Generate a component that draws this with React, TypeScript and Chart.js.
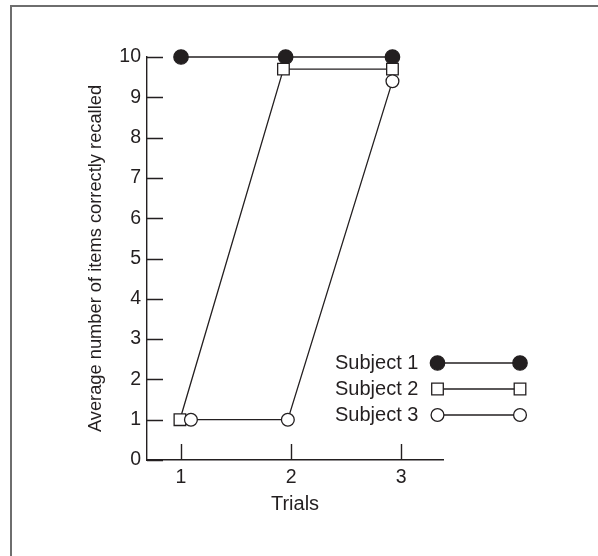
import { useEffect, useRef } from "react";
import { Chart, registerables } from "chart.js";

Chart.register(...registerables);

// Trial numbers shown on the x axis and recall counts on the y axis
const trialTicks = [1, 2, 3];
const recallTicks = [0, 1, 2, 3, 4, 5, 6, 7, 8, 9, 10];

const subjectNames = ["Subject 1", "Subject 2", "Subject 3"];

// Plotted positions (trial, items recalled) for each subject
const subject1Trial = [1.0, 1.95, 2.92];
const subject1Recall = [10, 10, 10];

const subject2Trial = [0.99, 1.93, 2.92];
const subject2Recall = [1, 9.7, 9.7];

const subject3Trial = [1.09, 1.97, 2.92];
const subject3Recall = [1, 1, 9.4];

const INK = "#231f20";
const FONT = "'Liberation Sans', Arial, Helvetica, sans-serif";
const TEXT_SIZE = 20;
const TICK_SIZE = 19.5;
const Y_TITLE_SIZE = 18.3;

const toPoints = (xs: number[], ys: number[]) => xs.map((x, i) => ({ x, y: ys[i] }));

// Short tick marks pointing into the plot area
const inwardTicks = {
  id: "inwardTicks",
  beforeDatasetsDraw(chart: any) {
    const { ctx, chartArea, scales } = chart;
    const len = 16;
    ctx.save();
    ctx.strokeStyle = INK;
    ctx.lineWidth = 1.4;
    ctx.beginPath();
    for (const v of trialTicks) {
      const px = Math.round(scales.x.getPixelForValue(v)) + 0.5;
      ctx.moveTo(px, chartArea.bottom);
      ctx.lineTo(px, chartArea.bottom - len);
    }
    for (const v of recallTicks) {
      const py = Math.round(scales.y.getPixelForValue(v)) + 0.5;
      ctx.moveTo(chartArea.left, py);
      ctx.lineTo(chartArea.left + len, py);
    }
    ctx.stroke();
    ctx.restore();
  },
};

function drawMarker(ctx: CanvasRenderingContext2D, ds: any, x: number, y: number) {
  ctx.beginPath();
  if (ds.pointStyle === "rect") {
    const half = Math.SQRT1_2 * ds.pointRadius;
    ctx.rect(x - half, y - half, half * 2, half * 2);
  } else {
    ctx.arc(x, y, ds.pointRadius, 0, Math.PI * 2);
  }
  ctx.fillStyle = ds.pointBackgroundColor;
  ctx.fill();
  ctx.lineWidth = ds.pointBorderWidth;
  ctx.strokeStyle = ds.pointBorderColor;
  ctx.stroke();
}

// Key with a line segment capped by the series marker at both ends
const lineKey = {
  id: "lineKey",
  afterDatasetsDraw(chart: any) {
    const { ctx, chartArea } = chart;
    const textLeft = chartArea.left + 188;
    const markA = chartArea.left + 290.5;
    const markB = chartArea.left + 373;
    const firstRow = chartArea.top + 306;
    const rowStep = 26;
    ctx.save();
    ctx.font = `${TEXT_SIZE}px ${FONT}`;
    ctx.textAlign = "left";
    ctx.textBaseline = "middle";
    chart.data.datasets.forEach((ds: any, i: number) => {
      const y = firstRow + i * rowStep;
      ctx.fillStyle = INK;
      ctx.fillText(ds.label, textLeft, y);
      ctx.beginPath();
      ctx.moveTo(markA, y);
      ctx.lineTo(markB, y);
      ctx.lineWidth = ds.borderWidth;
      ctx.strokeStyle = ds.borderColor;
      ctx.stroke();
      drawMarker(ctx, ds, markA, y);
      drawMarker(ctx, ds, markB, y);
    });
    ctx.restore();
  },
};

export default function App() {
  const canvasRef = useRef<HTMLCanvasElement | null>(null);

  useEffect(() => {
    const canvas = canvasRef.current;
    if (!canvas) return;

    const common = {
      borderColor: INK,
      borderWidth: 1.3,
      pointBorderColor: INK,
      pointBorderWidth: 1.3,
      pointHoverRadius: 0,
      showLine: true,
      fill: false,
      tension: 0,
      clip: false as const,
    };

    const chart = new Chart(canvas, {
      type: "line",
      data: {
        datasets: [
          {
            ...common,
            label: subjectNames[0],
            data: toPoints(subject1Trial, subject1Recall),
            pointStyle: "circle",
            pointRadius: 7.2,
            pointBackgroundColor: INK,
            order: 3,
          },
          {
            ...common,
            label: subjectNames[1],
            data: toPoints(subject2Trial, subject2Recall),
            pointStyle: "rect",
            pointRadius: 8.2,
            pointBackgroundColor: "#ffffff",
            order: 2,
          },
          {
            ...common,
            label: subjectNames[2],
            data: toPoints(subject3Trial, subject3Recall),
            pointStyle: "circle",
            pointRadius: 6.4,
            pointBackgroundColor: "#ffffff",
            order: 1,
          },
        ],
      },
      options: {
        responsive: false,
        animation: false,
        devicePixelRatio: 1,
        layout: { padding: { left: 81, top: 57, right: 155, bottom: 35.5 } },
        plugins: {
          legend: { display: false },
          tooltip: { enabled: false },
        },
        events: [],
        scales: {
          x: {
            type: "linear",
            min: 0.691,
            max: 3.379,
            afterBuildTicks: (scale: any) => {
              scale.ticks = trialTicks.map((v) => ({ value: v }));
            },
            afterFit: (scale: any) => {
              scale.height = 60.5;
            },
            grid: { display: false, drawTicks: false },
            border: { display: true, color: INK, width: 1.4 },
            ticks: {
              padding: 6,
              color: INK,
              font: { family: FONT, size: TICK_SIZE },
              callback: (v: any) => String(v),
            },
            title: {
              display: true,
              text: "Trials",
              color: INK,
              font: { family: FONT, size: TEXT_SIZE },
            },
          },
          y: {
            type: "linear",
            min: 0,
            max: 10,
            afterBuildTicks: (scale: any) => {
              scale.ticks = recallTicks.map((v) => ({ value: v }));
            },
            afterFit: (scale: any) => {
              scale.width = 66;
            },
            grid: { display: false, drawTicks: false },
            border: { display: true, color: INK, width: 1.4 },
            ticks: {
              padding: 6,
              color: INK,
              font: { family: FONT, size: TICK_SIZE },
              callback: (v: any) => String(v),
            },
            title: {
              display: true,
              text: "Average number of items correctly recalled",
              color: INK,
              font: { family: FONT, size: Y_TITLE_SIZE },
            },
          },
        },
      },
      plugins: [inwardTicks, lineKey],
    });

    return () => chart.destroy();
  }, []);

  return (
    <div style={{ position: "fixed", left: 0, top: 0, width: 598, height: 556, background: "#ffffff" }}>
      <div
        style={{
          position: "absolute",
          left: 10,
          top: 5,
          width: 588,
          height: 551,
          borderTop: "2px solid #6e6e6e",
          borderLeft: "2px solid #6e6e6e",
          boxSizing: "border-box",
        }}
      />
      <canvas
        ref={canvasRef}
        width={598}
        height={556}
        style={{ position: "absolute", left: 0, top: 0, width: 598, height: 556 }}
      />
    </div>
  );
}
